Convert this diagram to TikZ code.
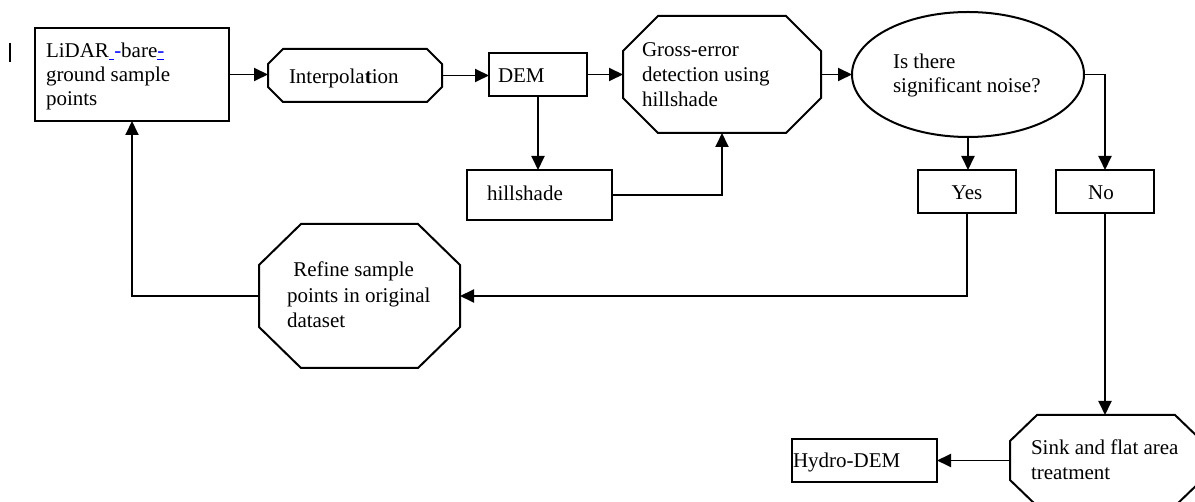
\documentclass[tikz,border=0pt]{standalone}
\usepackage{fontspec}
\setmainfont{Liberation Serif}
\usetikzlibrary{arrows.meta,shapes.geometric,calc}
\newcommand\octpath[3]{%
  \draw[shapeline] ([xshift=#2pt]#1.north west) -- ([xshift=-#2pt]#1.north east)
    -- ([yshift=-#3pt]#1.north east) -- ([yshift=#3pt]#1.south east)
    -- ([xshift=-#2pt]#1.south east) -- ([xshift=#2pt]#1.south west)
    -- ([yshift=#3pt]#1.south west) -- ([yshift=-#3pt]#1.north west) -- cycle;}
\begin{document}
\begin{tikzpicture}[x=1pt,y=-1pt,
  shapeline/.style={line width=2pt, line join=miter},
  box/.style={draw, shapeline, rectangle, inner sep=0pt, outer sep=0pt},
  ghost/.style={draw=none, rectangle, inner sep=0pt, outer sep=0pt},
  oval/.style={draw, shapeline, ellipse, inner sep=0pt, outer sep=0pt},
  lbl/.style={anchor=base west, inner sep=0pt, outer sep=0pt, font=\fontsize{21}{24}\selectfont},
  clbl/.style={anchor=base, inner sep=0pt, outer sep=0pt, font=\fontsize{21}{24}\selectfont},
  conn/.style={line width=1.9pt, -{Triangle[length=14pt,width=13pt]}}]
\useasboundingbox (0,0) rectangle (1195,502);
\begin{scope}
\clip (0,0) rectangle (1195,502);
% cursor mark
\draw[line width=2pt] (9.5,43) -- (9.5,62);
% shapes
\node[box, minimum width=194pt, minimum height=93pt] (lidar) at (132,74.5) {};
\node[ghost, minimum width=174pt, minimum height=53pt] (interp) at (355,75.5) {};
\octpath{interp}{15}{15}
\node[box, minimum width=98pt, minimum height=43pt] (dem) at (538,74.5) {};
\node[ghost, minimum width=198pt, minimum height=117pt] (gross) at (722,74.5) {};
\octpath{gross}{35}{35}
\node[oval, minimum width=232pt, minimum height=125pt] (noise) at (968,74.5) {};
\node[box, minimum width=145pt, minimum height=50pt] (hill) at (539.5,195) {};
\node[box, minimum width=98pt, minimum height=43pt] (yes) at (967,191.5) {};
\node[box, minimum width=98pt, minimum height=43pt] (no) at (1105,191.5) {};
\node[ghost, minimum width=201pt, minimum height=144pt] (refine) at (359.5,296) {};
\octpath{refine}{42}{41}
\node[ghost, minimum width=192pt, minimum height=91pt] (sink) at (1106,460.5) {};
\octpath{sink}{27}{26}
\node[box, minimum width=145pt, minimum height=43pt] (hydro) at (864.5,460.5) {};
% texts
\node[lbl] (lidarA) at (46,58) {LiDAR\textcolor{blue}{\underline{\ }-}bare\textcolor{blue}{\underline{-}}};
\node[lbl] (lidarB) at (46,82) {ground sample};
\node[lbl] (lidarC) at (46,106) {points};
\node[lbl] (interpA) at (289,84) {Interpola\textbf{t}ion};
\node[lbl] (demA) at (498,83) {DEM};
\node[lbl] (grossA) at (642,57) {Gross-error};
\node[lbl] (grossB) at (642,82) {detection using};
\node[lbl] (grossC) at (642,107) {hillshade};
\node[lbl] (noiseA) at (893,69) {Is there};
\node[lbl] (noiseB) at (893,93) {significant noise?};
\node[lbl] (hillA) at (487,201) {hillshade};
\node[clbl] (yesA) at (967,200) {Yes};
\node[clbl] (noA) at (1101,200) {No};
\node[lbl] (refineA) at (288,277) {\ Refine sample};
\node[lbl] (refineB) at (287,303) {points in original};
\node[lbl] (refineC) at (287,328) {dataset};
\node[lbl] (sinkA) at (1031,455) {Sink and flat area};
\node[lbl] (sinkB) at (1031,480) {treatment};
\node[lbl] (hydroA) at (793,468) {Hydro-DEM};
% connectors
\draw[conn] (lidar.east) -- (lidar.east -| interp.west);
\draw[conn] (interp.east) -- (interp.east -| dem.west);
\draw[conn] (dem.east) -- (dem.east -| gross.west);
\draw[conn] (gross.east) -- (gross.east -| noise.west);
\draw[conn] (dem.south) -- (dem.south |- hill.north);
\draw[conn] (hill.east) -| (gross.south);
\draw[conn] (noise.east) -| (no.north);
\draw[conn] (noise.south) -- (noise.south |- yes.north);
\draw[conn] (yes.south) |- (refine.east);
\draw[conn] (refine.west) -| (lidar.south);
\draw[conn] (no.south) -- (no.south |- sink.north);
\draw[conn] (sink.west) -- (hydro.east);
\end{scope}
\end{tikzpicture}
\end{document}
